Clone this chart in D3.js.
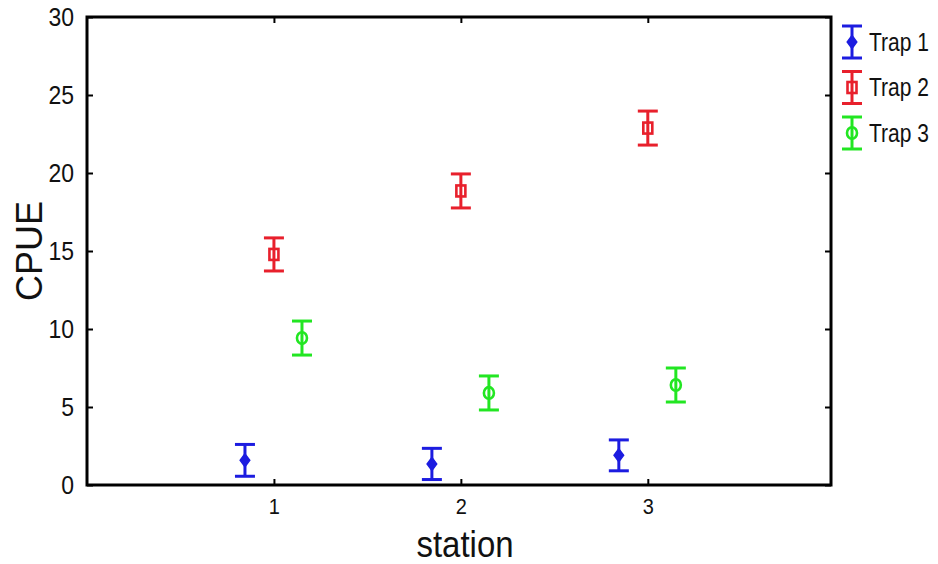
<!DOCTYPE html>
<html>
<head>
<meta charset="utf-8">
<script src="https://cdn.jsdelivr.net/npm/d3@7"></script>
<style>
  body { margin: 0; background: #fff; }
  text { font-family: "Liberation Sans", Arial, sans-serif; fill: #111; }
</style>
</head>
<body>
<svg width="938" height="564"></svg>
<script>
// data
const stations = [1, 2, 3];
const traps = ["Trap 1", "Trap 2", "Trap 3"];
const trap1Mean = [1.58, 1.35, 1.9];
const trap1Err = [1.02, 1.0, 0.99];
const trap2Mean = [14.78, 18.85, 22.88];
const trap2Err = [1.06, 1.09, 1.09];
const trap3Mean = [9.42, 5.9, 6.41];
const trap3Err = [1.09, 1.09, 1.09];
const yTicks = [0, 5, 10, 15, 20, 25, 30];

const colors = ["#1c1ce0", "#e8202c", "#22e622"];
const shapes = ["diamond", "square", "circle"];
const offsets = [-0.155, 0, 0.15];

const series = traps.map(function(t, i) {
    const means = [trap1Mean, trap2Mean, trap3Mean][i];
    const errs = [trap1Err, trap2Err, trap3Err][i];
    return {
        name: t, color: colors[i], shape: shapes[i], offset: offsets[i],
        values: stations.map(function(s, j) {
            return {station: s, mean: means[j], err: errs[j]};
        })
    };
});

const margins = {t: 17, r: 107, b: 79, l: 87};
const W = 938, H = 564;

const svg = d3.select('svg');

const scaleX = d3.scaleLinear()
    .domain([0, 3.98])
    .range([margins.l, W - margins.r]);

const scaleY = d3.scaleLinear()
    .domain([0, 30])
    .range([H - margins.b, margins.t]);

const x0 = scaleX.range()[0], x1 = scaleX.range()[1];
const y0 = scaleY.range()[0], y1 = scaleY.range()[1];

// axes (ticks point inward)
const leftG = svg.append('g')
    .attr('transform', `translate(${x0},0)`)
    .call(d3.axisLeft(scaleY).tickValues(yTicks).tickSize(-6).tickPadding(13));
leftG.selectAll('text')
    .style('font-size', '23px')
    .attr('transform', 'scale(1,1.12)');

svg.append('g')
    .attr('transform', `translate(${x1},0)`)
    .call(d3.axisRight(scaleY).tickValues(yTicks).tickSize(-6).tickFormat(''));

const bottomG = svg.append('g')
    .attr('transform', `translate(0,${y0})`)
    .call(d3.axisBottom(scaleX).tickValues(stations).tickSize(-6).tickPadding(12).tickFormat(d3.format('d')));
bottomG.selectAll('text')
    .style('font-size', '20px')
    .attr('transform', 'scale(1,1.12)');

svg.append('g')
    .attr('transform', `translate(0,${y1})`)
    .call(d3.axisTop(scaleX).tickValues(stations).tickSize(-6).tickFormat(''));

svg.selectAll('.domain').remove();
svg.selectAll('.tick line').attr('stroke', '#000').attr('stroke-width', 2);

// frame
svg.append('rect')
    .attr('x', x0).attr('y', y1)
    .attr('width', x1 - x0).attr('height', y0 - y1)
    .attr('fill', 'none').attr('stroke', '#000').attr('stroke-width', 3);

// axis titles
svg.append('text')
    .attr('transform', `translate(42,${(y0 + y1) / 2}) rotate(-90)`)
    .attr('text-anchor', 'middle')
    .style('font-size', '36px')
    .text('CPUE');

svg.append('text')
    .attr('transform', `translate(${(x0 + x1) / 2 + 6},557) scale(1,1.1)`)
    .attr('text-anchor', 'middle')
    .style('font-size', '33px')
    .text('station');

const capW = 20;

function drawMarker(g, shape, color) {
    if (shape === 'diamond') {
        g.append('path').attr('d', 'M0,-6.5L4.8,0L0,6.5L-4.8,0Z')
            .attr('fill', color).attr('stroke', color).attr('stroke-width', 1.5);
    } else if (shape === 'square') {
        g.append('rect').attr('x', -4.5).attr('y', -5.5).attr('width', 9).attr('height', 11)
            .attr('fill', 'none').attr('stroke', color).attr('stroke-width', 2.6);
    } else {
        g.append('ellipse').attr('rx', 5).attr('ry', 5.8)
            .attr('fill', 'none').attr('stroke', color).attr('stroke-width', 2.6);
    }
}

function errorBar(g, top, bottom, color) {
    g.append('line').attr('x1', 0).attr('x2', 0).attr('y1', top).attr('y2', bottom)
        .attr('stroke', color).attr('stroke-width', 3);
    g.append('line').attr('x1', -capW / 2).attr('x2', capW / 2).attr('y1', top).attr('y2', top)
        .attr('stroke', color).attr('stroke-width', 3);
    g.append('line').attr('x1', -capW / 2).attr('x2', capW / 2).attr('y1', bottom).attr('y2', bottom)
        .attr('stroke', color).attr('stroke-width', 3);
}

// points with error bars
series.forEach(function(s) {
    s.values.forEach(function(d) {
        const cy = scaleY(d.mean);
        const g = svg.append('g')
            .attr('transform', `translate(${scaleX(d.station + s.offset)},${cy})`);
        errorBar(g, scaleY(d.mean + d.err) - cy, scaleY(d.mean - d.err) - cy, s.color);
        drawMarker(g, s.shape, s.color);
    });
});

// legend
const legend = svg.append('g').attr('transform', 'translate(852,42)');
series.forEach(function(s, i) {
    const g = legend.append('g').attr('transform', `translate(0,${i * 45.5})`);
    errorBar(g, -16, 16, s.color);
    drawMarker(g, s.shape, s.color);
    g.append('text')
        .attr('transform', 'translate(17,0) scale(1,1.22)')
        .attr('dy', '0.35em')
        .style('font-size', '21px')
        .text(s.name);
});
</script>
</body>
</html>
